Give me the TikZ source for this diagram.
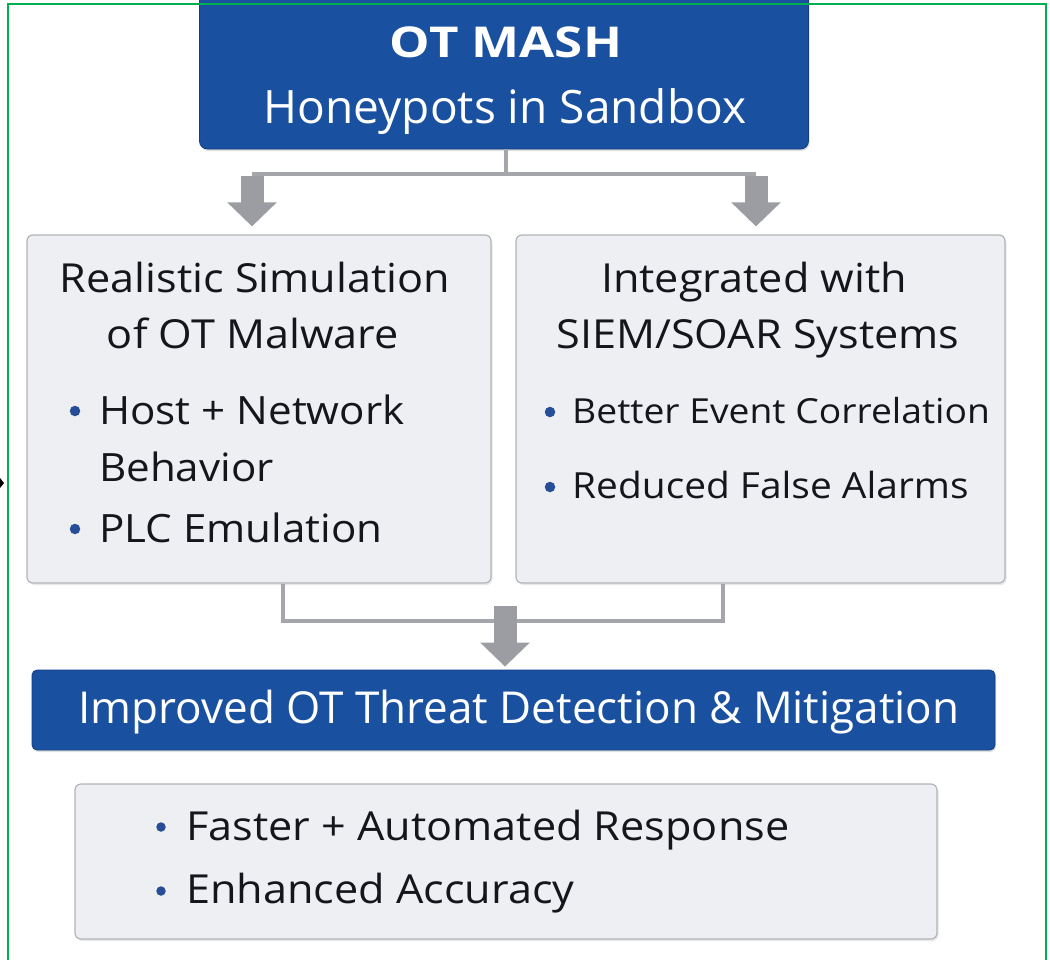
\documentclass[tikz,border=0pt]{standalone}
\usepackage{fontspec}
\setmainfont{Open Sans}
\newfontfamily\panelfont[FakeStretch=1.08]{Open Sans}
\newfontfamily\headfont[FakeStretch=1.2]{Open Sans}
\usetikzlibrary{arrows.meta,shadows}

\definecolor{otblue}{RGB}{25,80,160}
\definecolor{otblueline}{RGB}{18,62,130}
\definecolor{panelfill}{RGB}{237,239,243}
\definecolor{panelline}{RGB}{178,180,186}
\definecolor{connline}{RGB}{165,166,171}
\definecolor{blockgrey}{RGB}{156,157,162}
\definecolor{inktext}{RGB}{20,22,28}
\definecolor{dotblue}{RGB}{38,78,150}
\definecolor{framegreen}{RGB}{0,176,80}

\tikzset{
  bluebox/.style={draw=otblueline, line width=0.8pt, fill=otblue, rounded corners=8pt,
    drop shadow={opacity=0.25, shadow xshift=1pt, shadow yshift=-2pt}},
  panel/.style={draw=panelline, line width=1.2pt, fill=panelfill, rounded corners=6pt,
    drop shadow={opacity=0.18, shadow xshift=1.5pt, shadow yshift=-2pt}},
  bar/.style={draw=connline, line width=4.5pt},
  block/.style={draw=blockgrey, line width=23pt, -{Triangle[width=48pt,length=24pt,fill=blockgrey]}},
  title/.style={anchor=base, text=inktext, inner sep=0pt, font=\panelfont\fontsize{40}{44}\selectfont},
  item/.style={anchor=base west, text=inktext, inner sep=0pt, font=\panelfont\fontsize{39}{43}\selectfont},
  ritem/.style={anchor=base west, text=inktext, inner sep=0pt, font=\panelfont\fontsize{35}{40}\selectfont},
  bigitem/.style={anchor=base west, text=inktext, inner sep=0pt, font=\panelfont\fontsize{40}{44}\selectfont},
  bullet/.style={circle, fill=dotblue, inner sep=0pt, minimum size=10.5pt},
  whitetext/.style={anchor=base, text=white, inner sep=0pt}
}

\begin{document}
\begin{tikzpicture}[x=1pt,y=-1pt]
\useasboundingbox (0,0) rectangle (1050,959);
\fill[white] (0,0) rectangle (1050,959);

% header box
\node[bluebox, minimum width=609pt, minimum height=160pt] (top) at (504,69) {};
\node[whitetext, font=\headfont\bfseries\fontsize{42.5}{46}\selectfont] (topa) at (506,57) {OT MASH};
\node[whitetext, font=\fontsize{46}{52}\selectfont] (topb) at (505,123) {Honeypots in Sandbox};

% two panels
\node[panel, minimum width=464pt, minimum height=348pt] (lft) at (259,409) {};
\node[panel, minimum width=489pt, minimum height=348pt] (rgt) at (760.5,409) {};

% split connector from the header
\coordinate (tj) at (506,174);
\coordinate (la) at (252,174);
\coordinate (ra) at (756,174);
\draw[bar] (top.south -| tj) -- (tj);
\draw[bar] (la) -- (ra);
\draw[block, shorten >=8pt] ([yshift=-2pt]la) -- (la |- lft.north);
\draw[block, shorten >=8pt] ([yshift=-2pt]ra) -- (ra |- rgt.north);

% left panel text
\node[title] (l1) at (255,292) {Realistic Simulation};
\node[title] (l2) at (253,348) {of OT Malware};
\node[bullet] (ld1) at (75,411) {};
\node[item] (l3) at (99,424) {Host + Network};
\node[item] (l4) at (99,481) {Behavior};
\node[bullet] (ld2) at (75,529) {};
\node[item] (l5) at (99,542) {PLC Emulation};

% right panel text
\node[title] (r1) at (754,292) {Integrated with};
\node[title] (r2) at (758,348) {SIEM/SOAR Systems};
\node[bullet] (rd1) at (550,412) {};
\node[ritem, font=\panelfont\fontsize{34.5}{40}\selectfont] (r3) at (572,423) {Better Event Correlation};
\node[bullet] (rd2) at (550,487) {};
\node[ritem, font=\panelfont\fontsize{36}{40}\selectfont] (r4) at (572,498) {Reduced False Alarms};

% result bar
\node[bluebox, rounded corners=5pt, minimum width=963pt, minimum height=80pt] (res) at (513.5,710) {};
\node[whitetext, font=\fontsize{44}{48}\selectfont] (rest) at (519,723) {Improved OT Threat Detection \& Mitigation};

% merge connector into the result bar
\coordinate (lb) at (283,621);
\coordinate (rb) at (723,621);
\draw[bar] (lb |- lft.south) -- (lb) -- (rb) -- (rb |- rgt.south);
\coordinate (ma) at (505,606);
\draw[block, shorten >=3pt] (ma) -- (ma |- res.north);

% outcome panel
\node[panel, minimum width=862pt, minimum height=155pt] (out) at (506,861.5) {};
\node[bullet, minimum size=9.5pt] (od1) at (161,827) {};
\node[bigitem] (o1) at (186,840) {Faster + Automated Response};
\node[bullet, minimum size=9.5pt] (od2) at (161,891) {};
\node[bigitem] (o2) at (186,903) {Enhanced Accuracy};

% frame and edge mark
\draw[framegreen, line width=2.5pt] (8,975) -- (8,4) -- (1046,4) -- (1046,975);
\fill[black] (0,478) -- (4,483) -- (0,488) -- cycle;
\end{tikzpicture}
\end{document}
